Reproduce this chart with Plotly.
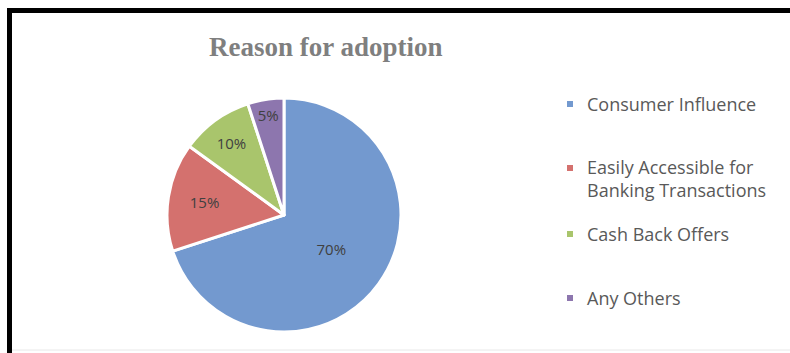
import plotly.graph_objects as go

title_text = "Reason for adoption"
labels = ["Consumer Influence", "Easily Accessible for<br>Banking Transactions", "Cash Back Offers", "Any Others"]
values = [70, 15, 10, 5]
colors = ["#7399CF", "#D4716E", "#A9C56C", "#8D76AE"]

W, H = 790, 353

def px(x):
    return x / W

def py(y):
    return 1 - y / H

cx, cy, r = 284, 215, 117

fig = go.Figure()
fig.add_trace(go.Pie(
    labels=labels,
    values=values,
    sort=False,
    direction="clockwise",
    rotation=0,
    marker=dict(colors=colors, line=dict(color="white", width=3)),
    textinfo="percent",
    texttemplate="%{percent:.0%}",
    textposition="inside",
    insidetextorientation="horizontal",
    textfont=dict(family="Open Sans", size=15, color="#404040"),
    showlegend=False,
    domain=dict(x=[px(cx - r), px(cx + r)], y=[py(cy + r), py(cy - r)]),
    hoverinfo="label+percent",
))

shapes = [
    # chart frame: thick black left and top edges, faint bottom edge
    dict(type="line", xref="paper", yref="paper", x0=px(9.5), x1=px(9.5), y0=py(353), y1=py(8),
         line=dict(color="black", width=5)),
    dict(type="line", xref="paper", yref="paper", x0=px(7), x1=1.0, y0=py(10.5), y1=py(10.5),
         line=dict(color="black", width=5)),
    dict(type="line", xref="paper", yref="paper", x0=px(12), x1=1.0, y0=py(350), y1=py(350),
         line=dict(color="#E8E8E8", width=1)),
]

legend_y = [104, 178, 234, 298]
marker_y = [104, 168, 234, 298]
annotations = [
    dict(text=f"<b>{title_text}</b>", x=px(326), y=py(47), xref="paper", yref="paper",
         showarrow=False, xanchor="center", yanchor="middle",
         font=dict(family="Liberation Serif", size=27, color="#7F7F7F")),
]
for lab, col, yy, my in zip(labels, colors, legend_y, marker_y):
    shapes.append(dict(type="rect", xref="paper", yref="paper",
                       x0=px(567), x1=px(573), y0=py(my + 3), y1=py(my - 3),
                       fillcolor=col, line=dict(width=0)))
    annotations.append(dict(text=lab, x=px(585), y=py(yy), xref="paper", yref="paper",
                            showarrow=False, xanchor="left", yanchor="middle", align="left",
                            font=dict(family="Open Sans", size=18, color="#595959")))

fig.update_layout(
    width=W, height=H,
    margin=dict(l=0, r=0, t=0, b=0),
    paper_bgcolor="white",
    plot_bgcolor="white",
    shapes=shapes,
    annotations=annotations,
)

fig.write_html("out.html")
